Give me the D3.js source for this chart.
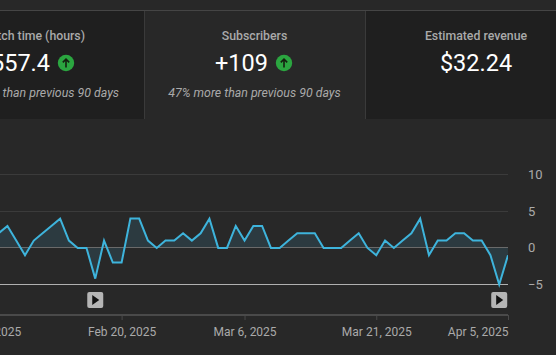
<!DOCTYPE html>
<html>
<head>
<meta charset="utf-8">
<script src="https://cdn.jsdelivr.net/npm/d3@7"></script>
<style>
  html, body { margin: 0; padding: 0; background: #282828; overflow: hidden; }
  svg { display: block; font-family: Roboto, sans-serif; }
</style>
</head>
<body>
<script>
var w = 556
var h = 355

var startDate = "2025-02-06"
var values = [2, 3, 1, -1, 1, 2, 3, 4, 1, 0, 0, -4.2, 1, -2, -2, 4, 4, 1, 0, 1, 1, 2, 1,
  2, 4, 0, 0, 3, 1, 3, 3, 0, 0, 1, 2, 2, 2, 0, 0, 0, 1, 2, 0, -1, 1, 0, 1, 2, 4, -1,
  1, 1, 2, 2, 1, 1, -1, -5, -1]

var xTickDates = ["2025-02-05", "2025-02-20", "2025-03-06", "2025-03-21", "2025-04-05"]
var xTickLabels = ["Feb 5, 2025", "Feb 20, 2025", "Mar 6, 2025", "Mar 21, 2025", "Apr 5, 2025"]
var yTicks = [-5, 0, 5, 10]
var playDates = ["2025-02-17", "2025-04-04"]

var cardTitles = ["Watch time (hours)", "Subscribers", "Estimated revenue"]
var cardValues = ["557.4", "+109", "$32.24"]
var cardNotes = ["than previous 90 days", "47% more than previous 90 days", ""]

var parseDay = d3.utcParse("%Y-%m-%d")
var first = parseDay(startDate)
var data = values.map(function(v, i) {
  return { date: d3.utcDay.offset(first, i), value: v }
})

var svg = d3.select("body").append("svg")
    .attr("width", w)
    .attr("height", h)

// header cards
svg.append("rect").attr("width", w).attr("height", h).attr("fill", "#282828")
svg.append("rect").attr("x", 0).attr("y", 11).attr("width", 144).attr("height", 108).attr("fill", "#1f1f1f")
svg.append("rect").attr("x", 366).attr("y", 11).attr("width", 190).attr("height", 108).attr("fill", "#1f1f1f")
svg.append("rect").attr("x", 0).attr("y", 10).attr("width", w).attr("height", 1).attr("fill", "#454545")
svg.append("rect").attr("x", 144).attr("y", 11).attr("width", 1).attr("height", 108).attr("fill", "#3a3a3a")
svg.append("rect").attr("x", 365).attr("y", 11).attr("width", 1).attr("height", 108).attr("fill", "#3a3a3a")

var titleX = [85, 254.5, 476]
var titleAnchor = ["end", "middle", "middle"]
var valueX = [50, 241.5, 476]
var valueAnchor = ["end", "middle", "middle"]
var noteX = [119, 254.5, 476]
var noteAnchor = ["end", "middle", "middle"]

cardTitles.forEach(function(t, i) {
  svg.append("text")
    .attr("x", titleX[i]).attr("y", 40)
    .attr("text-anchor", titleAnchor[i])
    .style("font-size", "12.3px")
    .style("font-weight", 500)
    .style("fill", "#aaaaaa")
    .text(t)
  svg.append("text")
    .attr("x", valueX[i]).attr("y", 71)
    .attr("text-anchor", valueAnchor[i])
    .style("font-size", "23.5px")
    .style("fill", "#ffffff")
    .text(cardValues[i])
  if (cardNotes[i]) {
    svg.append("text")
      .attr("x", noteX[i]).attr("y", 97)
      .attr("text-anchor", noteAnchor[i])
      .style("font-size", "12.35px")
      .style("font-style", "italic")
      .style("fill", "#aaaaaa")
      .text(cardNotes[i])
  }
})

// green up arrows
var arrowX = [66, 284]
arrowX.forEach(function(x) {
  var g = svg.append("g").attr("transform", "translate(" + x + ",63)")
  g.append("circle").attr("r", 8.2).attr("fill", "#2ba640")
  g.append("path")
    .attr("d", "M0,4.5V-3.5M-3.2,-0.6L0,-3.8L3.2,-0.6")
    .attr("fill", "none")
    .attr("stroke", "#14200f")
    .attr("stroke-width", 1.6)
})

// scales
var x = d3.scaleUtc()
    .domain([parseDay("2025-02-20"), parseDay("2025-04-05")])
    .range([121.6, 508])
var y = d3.scaleLinear()
    .domain([-5, 10])
    .range([284.5, 174.7])

// pixel row of a horizontal rule, keeps it 1px sharp
function snap(v) { return Math.floor(y(v)) + 0.5 }

// horizontal grid + right hand labels
var yAxis = svg.append("g")
    .attr("transform", "translate(508,0)")
    .call(d3.axisRight(y).tickValues(yTicks).tickSize(-508).tickPadding(20).tickFormat(d3.format("d")))
yAxis.select(".domain").remove()
yAxis.selectAll(".tick").attr("transform", function(d) { return "translate(0," + snap(d) + ")" })
yAxis.selectAll("line")
    .attr("stroke", function(d) { return d == -5 ? "#b0b0b0" : d == 0 ? "#6a6a6a" : "#3b3b3b" })
yAxis.selectAll("text")
    .style("font-family", "Roboto, sans-serif")
    .style("font-size", "13px")
    .style("fill", "#aaaaaa")

svg.append("clipPath").attr("id", "plot")
  .append("rect").attr("x", 0).attr("y", 160).attr("width", 508).attr("height", 140)

var area = d3.area()
    .x(function(d) { return x(d.date) })
    .y0(y(0))
    .y1(function(d) { return y(d.value) })
var line = d3.line()
    .x(function(d) { return x(d.date) })
    .y(function(d) { return y(d.value) })

var plot = svg.append("g").attr("clip-path", "url(#plot)")
plot.append("path").datum(data).attr("d", area).attr("fill", "#2c3a40")
// zero and bottom rules sit over the area
plot.append("line").attr("x1", 0).attr("x2", 508).attr("y1", snap(0)).attr("y2", snap(0)).attr("stroke", "#6a6a6a")
plot.append("path").datum(data).attr("d", line)
    .attr("fill", "none")
    .attr("stroke", "#3eb4dc")
    .attr("stroke-width", 2)
    .attr("stroke-linejoin", "miter")

// play markers
playDates.forEach(function(d) {
  var g = svg.append("g").attr("transform", "translate(" + x(parseDay(d)) + ",300)")
  g.append("rect").attr("x", -8).attr("y", -8).attr("width", 16).attr("height", 16).attr("rx", 2).attr("fill", "#b5b5b5")
  g.append("path").attr("d", "M-3,-5L4,0L-3,5Z").attr("fill", "#111111")
})

// x axis
var xAxis = svg.append("g")
    .attr("transform", "translate(0,315)")
    .call(d3.axisBottom(x)
      .tickValues(xTickDates.map(parseDay))
      .tickSize(5)
      .tickPadding(7)
      .tickFormat(function(d, i) { return xTickLabels[i] }))
xAxis.select(".domain").remove()
xAxis.append("rect").attr("x", 0).attr("y", -1).attr("width", 508).attr("height", 2).attr("fill", "#4a4a4a")
xAxis.selectAll("line").attr("stroke", "#4a4a4a")
xAxis.selectAll("text")
    .style("font-family", "Roboto, sans-serif")
    .style("font-size", "12px")
    .style("fill", "#aaaaaa")
// last label ends at its tick, as in the page
xAxis.selectAll("text").filter(function(d, i) { return i == 4 })
    .attr("text-anchor", "end")
</script>
</body>
</html>
